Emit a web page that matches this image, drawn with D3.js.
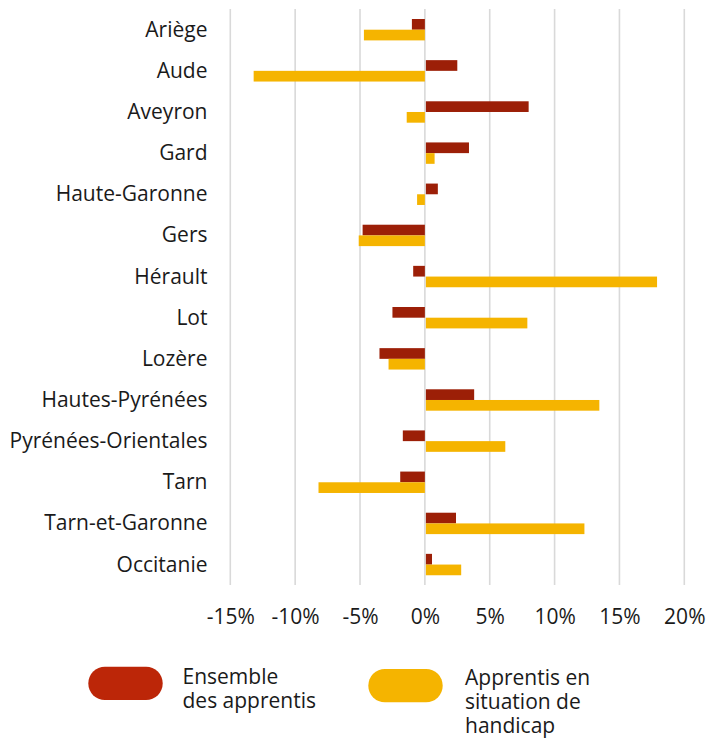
<!DOCTYPE html>
<html><head><meta charset="utf-8">
<script src="https://cdn.jsdelivr.net/npm/d3@7"></script>
<style>body{margin:0;background:#fff;}svg{display:block;font-family:"Open Sans",sans-serif;}</style>
</head><body><div id="chart"></div>
<script>
const categories = ["Ariège","Aude","Aveyron","Gard","Haute-Garonne","Gers","Hérault","Lot","Lozère","Hautes-Pyrénées","Pyrénées-Orientales","Tarn","Tarn-et-Garonne","Occitanie"];
const ensemble = [-1.0, 2.5, 8.0, 3.4, 1.0, -4.8, -0.9, -2.5, -3.5, 3.8, -1.7, -1.9, 2.4, 0.55];
const handicap = [-4.7, -13.2, -1.4, 0.75, -0.6, -5.1, 17.9, 7.9, -2.8, 13.45, 6.2, -8.2, 12.3, 2.8];
const seriesNames = ["Ensemble des apprentis", "Apprentis en situation de handicap"];
const tickValues = [-15, -10, -5, 0, 5, 10, 15, 20];
const barColors = ["#9c1f07", "#f5b400"];
const legendColors = ["#bc2608", "#f5b400"];

const W = 707, H = 739;
const FS = 21;
const svg = d3.select("#chart").append("svg").attr("width", W).attr("height", H);

const x = d3.scaleLinear().domain([-15, 20]).range([230.3, 684.3]);
const y0 = d3.scaleBand().domain(categories).range([9, 585]).padding(0);
const y1 = d3.scaleBand().domain([0, 1]).range([10, 31.4]).padding(0);

// gridlines
svg.append("g").selectAll("line").data(tickValues).join("line")
  .attr("x1", d => x(d)).attr("x2", d => x(d))
  .attr("y1", 9).attr("y2", 585)
  .attr("stroke", "#d9d9d9").attr("stroke-width", 1.6);

// bars
const data = categories.map((c, i) => ({c, vals: [ensemble[i], handicap[i]]}));
const g = svg.append("g").selectAll("g").data(data).join("g")
  .attr("transform", d => `translate(0,${y0(d.c)})`);
g.selectAll("rect").data(d => d.vals.map((v, k) => ({v, k}))).join("rect")
  .attr("x", d => Math.min(x(0), x(d.v)) + (d.v > 0 ? 1 : 0))
  .attr("width", d => Math.max(0, Math.abs(x(d.v) - x(0)) - (d.v > 0 ? 1 : 0)))
  .attr("y", d => y1(d.k))
  .attr("height", y1.bandwidth())
  .attr("fill", d => barColors[d.k]);

// category labels
const yAxis = d3.axisLeft(y0).tickSize(0).tickPadding(0);
const ya = svg.append("g").attr("transform", "translate(207.5,0)").call(yAxis);
ya.select(".domain").remove();
ya.selectAll("text").attr("font-size", FS).attr("fill", "#1a1a1a")
  .attr("font-family", "Open Sans, sans-serif").attr("dy", "0.34em");

// x axis labels
const xAxis = d3.axisBottom(x).tickValues(tickValues).tickSize(0).tickPadding(0)
  .tickFormat(d => d + "%");
const xa = svg.append("g").attr("transform", "translate(0,609)").call(xAxis);
xa.select(".domain").remove();
xa.selectAll("text").attr("font-size", FS).attr("fill", "#1a1a1a")
  .attr("font-family", "Open Sans, sans-serif").attr("dy", "0.71em");

// legend
const legendItems = [
  {name: seriesNames[0], lines: ["Ensemble", "des apprentis"], px: 88.3, py: 666.7, tx: 182.5, ty: 684},
  {name: seriesNames[1], lines: ["Apprentis en", "situation de", "handicap"], px: 368.3, py: 669, tx: 465, ty: 685}
];
const lg = svg.append("g").selectAll("g").data(legendItems).join("g");
lg.append("rect").attr("x", d => d.px).attr("y", d => d.py)
  .attr("width", 74.4).attr("height", 33.3).attr("rx", 16.6)
  .attr("fill", (d, i) => legendColors[i]);
lg.each(function(d) {
  d.lines.forEach((l, j) => d3.select(this).append("text")
    .attr("x", d.tx).attr("y", d.ty + j * 24)
    .attr("font-size", FS).attr("fill", "#1a1a1a").text(l));
});
</script></body></html>
